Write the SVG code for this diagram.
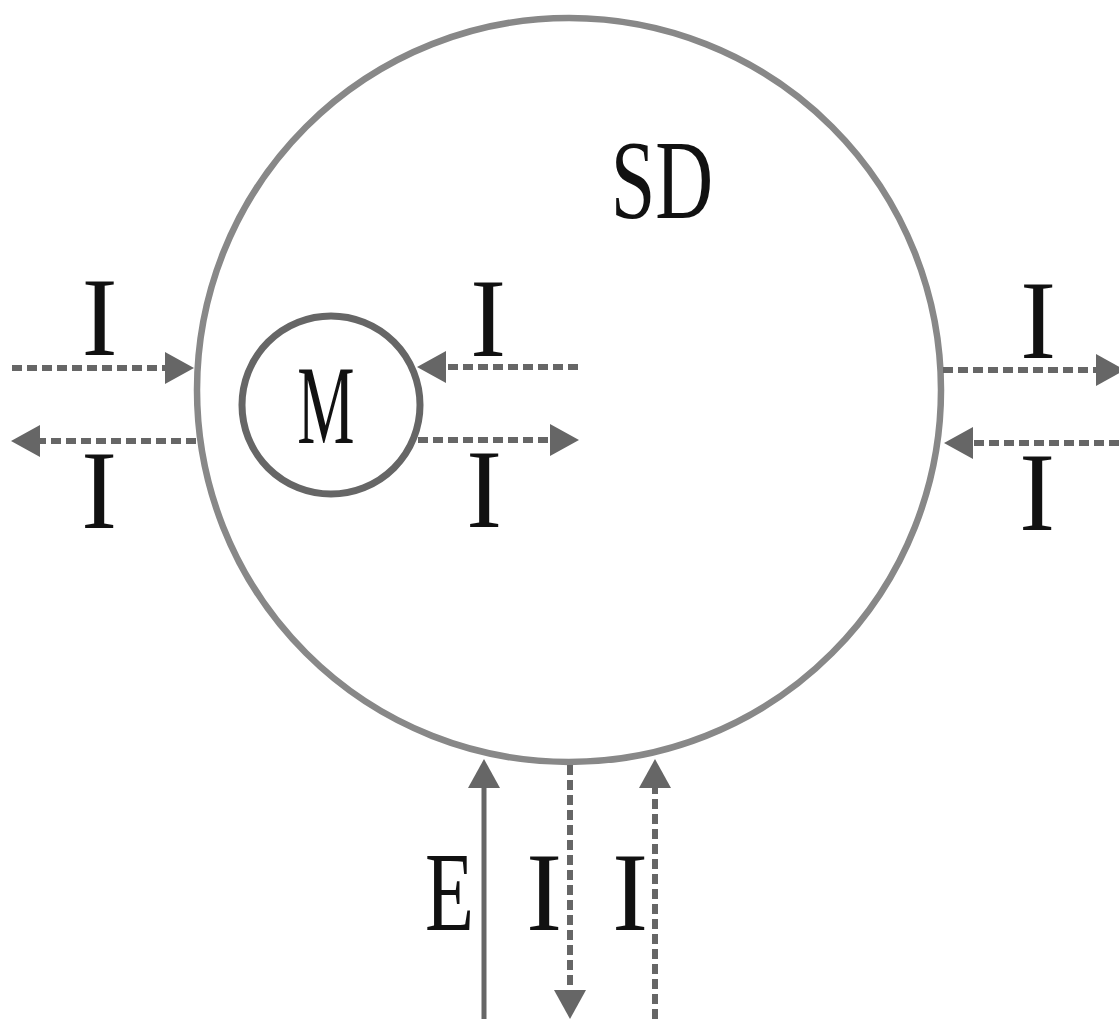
<svg xmlns="http://www.w3.org/2000/svg" width="1119" height="1019" viewBox="0 0 1119 1019">
<style>
.t{font-family:"Liberation Serif","Times New Roman",serif;font-size:113px;fill:#111;text-anchor:middle}
.d{stroke:#666;stroke-width:6;stroke-dasharray:10 5;fill:none}
.s{stroke:#666;stroke-width:5;fill:none}
</style>
<defs>
<marker id="ah" markerUnits="userSpaceOnUse" markerWidth="30" markerHeight="32" refX="0" refY="16" orient="auto" viewBox="0 0 30 32">
<path d="M0,0 L29,16 L0,32 z" fill="#666"/>
</marker>
</defs>
<rect width="1119" height="1019" fill="#fff"/>
<g id="SD">
<circle cx="569" cy="390" r="372" fill="none" stroke="#888" stroke-width="6.5"/>
<text class="t" transform="translate(662,218) scale(0.71,1)">SD</text>
</g>
<g id="M">
<circle cx="331" cy="405" r="89" fill="none" stroke="#666" stroke-width="7"/>
<text class="t" transform="translate(326,443) scale(0.57,1)">M</text>
</g>
<g id="connectors">
<line class="d" x1="12" y1="368" x2="165" y2="368" marker-end="url(#ah)"/>
<line class="d" x1="196" y1="441" x2="40" y2="441" marker-end="url(#ah)"/>
<line class="d" x1="578" y1="367" x2="446" y2="367" marker-end="url(#ah)"/>
<line class="d" x1="418" y1="440" x2="550" y2="440" marker-end="url(#ah)"/>
<line class="d" x1="943" y1="370" x2="1096" y2="370" marker-end="url(#ah)"/>
<line class="d" x1="1119" y1="443" x2="973" y2="443" marker-end="url(#ah)"/>
<line class="s" x1="484" y1="1019" x2="484" y2="788" marker-end="url(#ah)"/>
<line class="d" x1="570" y1="765" x2="570" y2="990" marker-end="url(#ah)"/>
<line class="d" x1="655" y1="1019" x2="655" y2="788" marker-end="url(#ah)"/>
</g>
<g id="labels">
<text class="t" transform="translate(99.5,355) scale(0.95,1)">I</text>
<text class="t" transform="translate(99,528) scale(0.95,1)">I</text>
<text class="t" transform="translate(488,356) scale(0.95,1)">I</text>
<text class="t" transform="translate(484,527) scale(0.95,1)">I</text>
<text class="t" transform="translate(1038,358) scale(0.95,1)">I</text>
<text class="t" transform="translate(1037,530) scale(0.95,1)">I</text>
<text class="t" transform="translate(449.5,930) scale(0.71,1)">E</text>
<text class="t" transform="translate(544,930) scale(0.95,1)">I</text>
<text class="t" transform="translate(630,930) scale(0.95,1)">I</text>
</g>
</svg>
